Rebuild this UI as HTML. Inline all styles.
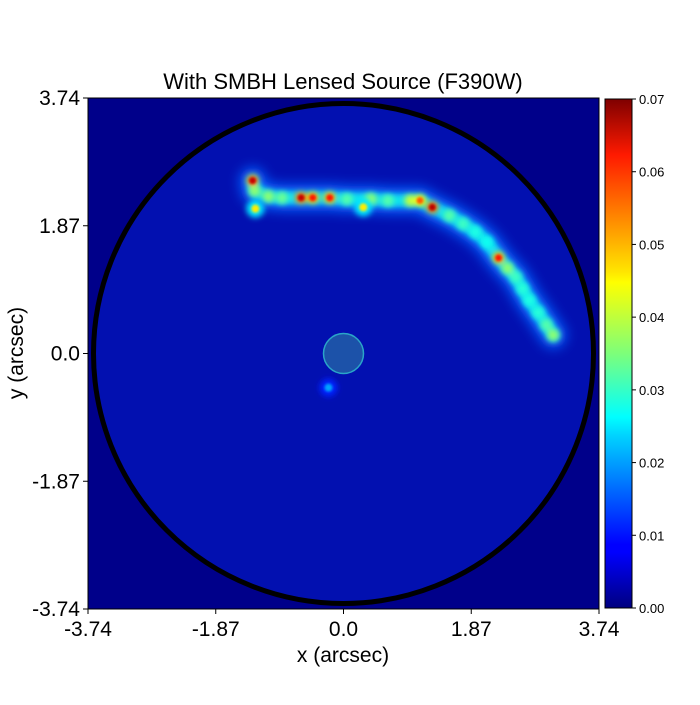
<!DOCTYPE html>
<html><head><meta charset="utf-8"><style>
body{margin:0;background:#fff;}
text{font-family:"Liberation Sans",sans-serif;}
</style></head><body>
<svg id="chart" width="700" height="700" viewBox="0 0 700 700" xmlns="http://www.w3.org/2000/svg">
<defs>
<filter id="b8" x="-50%" y="-50%" width="200%" height="200%"><feGaussianBlur stdDeviation="6"/></filter>
<filter id="b4" x="-50%" y="-50%" width="200%" height="200%"><feGaussianBlur stdDeviation="3"/></filter>
<filter id="b1" x="-50%" y="-50%" width="200%" height="200%"><feGaussianBlur stdDeviation="1.3"/></filter>
<linearGradient id="jet" x1="0" y1="1" x2="0" y2="0">
<stop offset="0" stop-color="#00007f"/><stop offset="0.11" stop-color="#0000ff"/><stop offset="0.125" stop-color="#0000ff"/>
<stop offset="0.34" stop-color="#00d4ff"/><stop offset="0.375" stop-color="#0ff"/><stop offset="0.5" stop-color="#7dff7a"/>
<stop offset="0.64" stop-color="#ff0"/><stop offset="0.66" stop-color="#ffe600"/><stop offset="0.89" stop-color="#ff1a00"/><stop offset="1" stop-color="#7f0000"/>
</linearGradient>
<clipPath id="plotclip"><rect x="88" y="98" width="511" height="511"/></clipPath>
</defs>
<text x="343" y="89" font-size="22" text-anchor="middle">With SMBH Lensed Source (F390W)</text>
<g id="plot" clip-path="url(#plotclip)"></g>
<rect x="88" y="98" width="511" height="511" fill="none" stroke="#000" stroke-width="1"/>
<g id="axes"></g>
<rect x="605" y="99" width="27" height="509" fill="url(#jet)" stroke="#000" stroke-width="1"/>
<g id="cbar"></g>
<text x="343" y="662" font-size="21" text-anchor="middle">x (arcsec)</text>
<text transform="translate(23,353) rotate(-90)" font-size="21" text-anchor="middle">y (arcsec)</text>
</svg>
<script>
const NS="http://www.w3.org/2000/svg";
const ticks=[-3.74,-1.87,0.0,1.87,3.74];
const tickLabels=["-3.74","-1.87","0.0","1.87","3.74"];
const cbarTicks=[0,0.01,0.02,0.03,0.04,0.05,0.06,0.07];
const cbarLabels=["0.00","0.01","0.02","0.03","0.04","0.05","0.06","0.07"];
const arcX=[-1.33,-1.3,-1.1,-0.9,-0.62,-0.45,-0.2,0.05,0.4,0.65,0.98,1.12,1.3,1.55,1.75,1.93,2.1,2.27,2.4,2.52,2.62,2.72,2.85,2.97,3.07];
const arcY=[2.53,2.38,2.3,2.28,2.28,2.28,2.28,2.26,2.26,2.24,2.24,2.24,2.14,2.02,1.9,1.78,1.63,1.4,1.25,1.12,0.95,0.78,0.6,0.42,0.27];
const arcV=[0.065,0.045,0.045,0.042,0.065,0.06,0.06,0.04,0.045,0.04,0.05,0.055,0.066,0.04,0.038,0.035,0.034,0.06,0.045,0.038,0.036,0.035,0.036,0.04,0.045];
const knotX=[-1.29,0.29,-0.22];
const knotY=[2.12,2.14,-0.5];
const knotV=[0.045,0.045,0.02];
const cx=v=>88+(v+3.74)/7.48*511, cy=v=>609-(v+3.74)/7.48*511;
const cbY=v=>608-v/0.07*509;
function jet(t){t=Math.max(0,Math.min(1,t));
 const r=Math.min(4*t-1.5,-4*t+4.5),g=Math.min(4*t-0.5,-4*t+3.5),b=Math.min(4*t+0.5,-4*t+2.5);
 const c=x=>Math.round(255*Math.max(0,Math.min(1,x)));return `rgb(${c(r)},${c(g)},${c(b)})`;}
function mk(tag,attrs,parent){const e=document.createElementNS(NS,tag);for(const k in attrs)e.setAttribute(k,attrs[k]);parent.appendChild(e);return e;}
const plot=document.getElementById('plot');
mk('rect',{x:88,y:98,width:511,height:511,fill:'#00008a'},plot);
const disc=mk('circle',{cx:cx(0),cy:cy(0),r:250,fill:'#0210b0'},plot);


const ring=mk('circle',{cx:cx(0),cy:cy(0),r:250,fill:'none',stroke:'#000','stroke-width':5},plot);


const pts=arcX.map((x,i)=>cx(x)+','+cy(arcY[i])).join(' ');
const l1=mk('polyline',{points:pts,fill:'none',stroke:'#1060ff','stroke-width':26,'stroke-linejoin':'round','stroke-linecap':'round',filter:'url(#b8)'},plot);


const l2=mk('polyline',{points:pts,fill:'none',stroke:'#10e0f0','stroke-width':13,'stroke-linejoin':'round','stroke-linecap':'round',filter:'url(#b4)'},plot);


const g2=mk('g',{filter:'url(#b4)'},plot),g3=mk('g',{filter:'url(#b1)'},plot);
for(let i=0;i<arcX.length;i++){
 const x=cx(arcX[i]),y=cy(arcY[i]),v=arcV[i]/0.07;
 const b=mk('circle',{cx:x,cy:y,r:6,fill:jet(v*0.8)},g2);
 
 
 if(v>0.75){const c=mk('circle',{cx:x,cy:y,r:3.5,fill:jet(v)},g3);
 
 }
}
for(let i=0;i<knotX.length;i++){
 const h=mk('circle',{cx:cx(knotX[i]),cy:cy(knotY[i]),r:9,fill:jet(knotV[i]/0.07*0.55),filter:'url(#b4)'},plot);
 
 
 const k=mk('circle',{cx:cx(knotX[i]),cy:cy(knotY[i]),r:4,fill:jet(knotV[i]/0.07),filter:'url(#b1)'},plot);
 
 
}
const sm=mk('circle',{cx:cx(0),cy:cy(0),r:20,fill:'#1f5aa8','fill-opacity':0.9,stroke:'#2aa5c8','stroke-width':1.5},plot);


const axes=document.getElementById('axes');
ticks.forEach((t,i)=>{
 mk('line',{x1:cx(t),x2:cx(t),y1:609,y2:614,stroke:'#000'},axes);
 const tx=mk('text',{x:cx(t),y:636,'font-size':21,'text-anchor':'middle'},axes);tx.textContent=tickLabels[i];
 
 
 mk('line',{x1:83,x2:88,y1:cy(t),y2:cy(t),stroke:'#000'},axes);
 const ty=mk('text',{x:80,y:cy(t)+7,'font-size':21,'text-anchor':'end'},axes);ty.textContent=tickLabels[i];
 
 
});
const cb=document.getElementById('cbar');
cbarTicks.forEach((t,i)=>{
 mk('line',{x1:632,x2:636,y1:cbY(t),y2:cbY(t),stroke:'#000'},cb);
 const tl=mk('text',{x:639,y:cbY(t)+5,'font-size':13},cb);tl.textContent=cbarLabels[i];
 
 
});
</script>
</body></html>
